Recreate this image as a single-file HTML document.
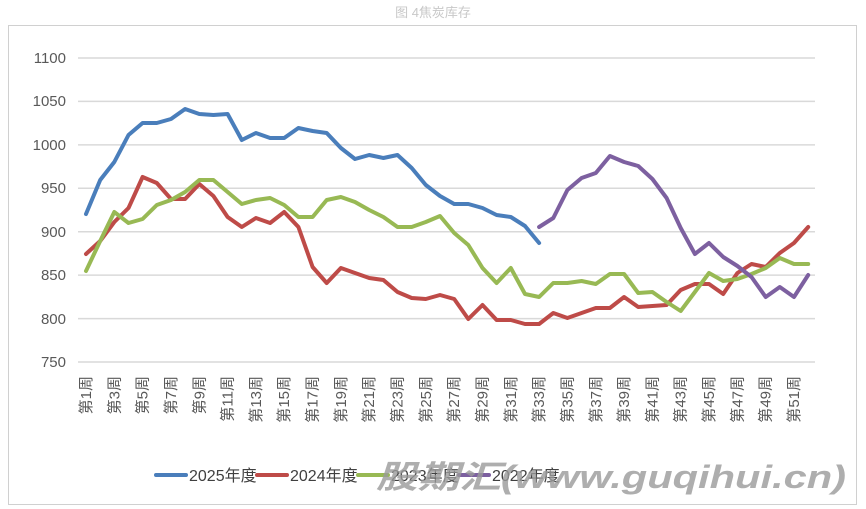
<!DOCTYPE html>
<html><head><meta charset="utf-8"><style>
body{margin:0;background:#fff}
svg{display:block;font-family:"Liberation Sans","Noto Sans CJK SC",sans-serif}
</style></head><body>
<svg width="866" height="509" viewBox="0 0 866 509" xmlns="http://www.w3.org/2000/svg">
<text x="433" y="17" text-anchor="middle" font-size="13" fill="#c8c8c8">图 4焦炭库存</text>
<rect x="8.5" y="25.5" width="848" height="479" fill="none" stroke="#d0d0d0"/>
<g stroke="#d9d9d9" stroke-width="1.5">
<line x1="78" x2="815" y1="58" y2="58"/><line x1="78" x2="815" y1="101.4" y2="101.4"/>
<line x1="78" x2="815" y1="144.9" y2="144.9"/><line x1="78" x2="815" y1="188.3" y2="188.3"/>
<line x1="78" x2="815" y1="231.7" y2="231.7"/><line x1="78" x2="815" y1="275.1" y2="275.1"/>
<line x1="78" x2="815" y1="318.6" y2="318.6"/><line x1="78" x2="815" y1="362" y2="362"/>
</g>
<g font-size="15" fill="#595959" text-anchor="end">
<text x="66" y="63">1100</text><text x="66" y="106">1050</text><text x="66" y="150">1000</text>
<text x="66" y="193">950</text><text x="66" y="237">900</text><text x="66" y="280">850</text>
<text x="66" y="324">800</text><text x="66" y="367">750</text>
</g>
<g font-size="15" fill="#595959" text-anchor="end">
<text transform="translate(91,376) rotate(-90)">第1周</text>
<text transform="translate(119.3,376) rotate(-90)">第3周</text>
<text transform="translate(147.6,376) rotate(-90)">第5周</text>
<text transform="translate(176,376) rotate(-90)">第7周</text>
<text transform="translate(204.3,376) rotate(-90)">第9周</text>
<text transform="translate(232.6,376) rotate(-90)">第11周</text>
<text transform="translate(260.9,376) rotate(-90)">第13周</text>
<text transform="translate(289.2,376) rotate(-90)">第15周</text>
<text transform="translate(317.6,376) rotate(-90)">第17周</text>
<text transform="translate(345.9,376) rotate(-90)">第19周</text>
<text transform="translate(374.2,376) rotate(-90)">第21周</text>
<text transform="translate(402.5,376) rotate(-90)">第23周</text>
<text transform="translate(430.8,376) rotate(-90)">第25周</text>
<text transform="translate(459.2,376) rotate(-90)">第27周</text>
<text transform="translate(487.5,376) rotate(-90)">第29周</text>
<text transform="translate(515.8,376) rotate(-90)">第31周</text>
<text transform="translate(544.1,376) rotate(-90)">第33周</text>
<text transform="translate(572.4,376) rotate(-90)">第35周</text>
<text transform="translate(600.8,376) rotate(-90)">第37周</text>
<text transform="translate(629.1,376) rotate(-90)">第39周</text>
<text transform="translate(657.4,376) rotate(-90)">第41周</text>
<text transform="translate(685.7,376) rotate(-90)">第43周</text>
<text transform="translate(714,376) rotate(-90)">第45周</text>
<text transform="translate(742.4,376) rotate(-90)">第47周</text>
<text transform="translate(770.7,376) rotate(-90)">第49周</text>
<text transform="translate(799,376) rotate(-90)">第51周</text>
</g>
<g fill="none" stroke-width="4" stroke-linejoin="round" stroke-linecap="round">
<polyline id="b" stroke="#4a7ebb"/><polyline id="r" stroke="#be4b48"/><polyline id="g" stroke="#98b954"/><polyline id="p" stroke="#7d60a0"/>
</g>
<g stroke-width="4" stroke-linecap="round">
<line x1="156" x2="186" y1="475" y2="475" stroke="#4a7ebb"/>
<line x1="257" x2="287" y1="475" y2="475" stroke="#be4b48"/>
<line x1="358" x2="388" y1="475" y2="475" stroke="#98b954"/>
<line x1="459" x2="489" y1="475" y2="475" stroke="#7d60a0"/>
</g>
<g font-size="16" fill="#404040">
<text x="189" y="481">2025年度</text><text x="290" y="481">2024年度</text>
<text x="391" y="481">2023年度</text><text x="492" y="481">2022年度</text>
</g>
<text x="376" y="488" font-size="32" font-weight="bold" font-style="italic" fill="#9a9a9a" fill-opacity="0.8" textLength="470" lengthAdjust="spacingAndGlyphs">股期汇(www.guqihui.cn)</text>
<script>
var X=function(w){return 86+(w-1)*14.16};
function pts(start,arr){return arr.map(function(y,i){return X(start+i).toFixed(1)+","+y}).join(" ")}
document.getElementById("b").setAttribute("points",pts(1,[214,180,162,135,123,123,119,109,114,115,114,140,133,138,138,128,131,133,148,159,155,158,155,168,185,196,204,204,208,215,217,226,243]));
document.getElementById("r").setAttribute("points",pts(1,[254,241,222,208,177,183,199,199,184,196,217,227,218,223,212,227,267,283,268,273,278,280,292,298,299,295,299,319,305,320,320,324,324,313,318,313,308,308,297,307,306,305,290,284,284,294,273,264,267,253,243,227]));
document.getElementById("g").setAttribute("points",pts(1,[271,241,212,223,219,205,200,192,180,180,192,204,200,198,205,217,217,200,197,202,210,217,227,227,222,216,233,245,268,283,268,294,297,283,283,281,284,274,274,293,292,302,311,292,273,281,279,274,268,258,264,264]));
document.getElementById("p").setAttribute("points",pts(33,[227,218,190,178,173,156,162,166,179,198,228,254,243,257,266,277,297,287,297,275]));
</script>
</svg>
</body></html>
